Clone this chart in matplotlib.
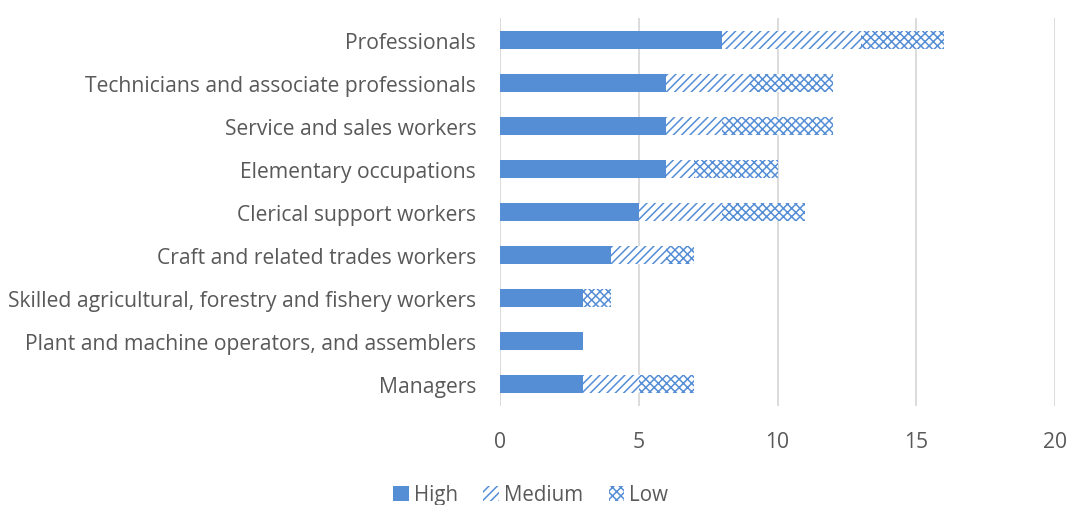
import matplotlib.pyplot as plt

# Data (bottom to top)
occupations = [
    'Managers',
    'Plant and machine operators, and assemblers',
    'Skilled agricultural, forestry and fishery workers',
    'Craft and related trades workers',
    'Clerical support workers',
    'Elementary occupations',
    'Service and sales workers',
    'Technicians and associate professionals',
    'Professionals',
]
high = [3, 3, 3, 4, 5, 6, 6, 6, 8]
medium = [2, 0, 0, 2, 3, 1, 2, 3, 5]
low = [2, 0, 1, 1, 3, 3, 4, 3, 3]

blue = '#558ED5'
text_col = '#595959'

plt.rcParams['font.family'] = ['Open Sans', 'DejaVu Sans']
plt.rcParams['hatch.color'] = blue
plt.rcParams['hatch.linewidth'] = 1.1

fig = plt.figure(figsize=(10.68, 5.06), dpi=100)
ax = fig.add_axes([0.468, 0.1966, 0.52, 0.7649])

y = range(len(occupations))
left_med = [h for h in high]
left_low = [h + m for h, m in zip(high, medium)]

ax.barh(y, high, height=0.42, color=blue, label='High')
ax.barh(y, medium, left=left_med, height=0.42, color='white',
        edgecolor=blue, linewidth=0, hatch='////', label='Medium')
ax.barh(y, low, left=left_low, height=0.42, color='white',
        edgecolor=blue, linewidth=0, hatch='xxxx', label='Low')

ax.set_xlim(0, 20)
ax.set_ylim(-0.5, len(occupations) - 0.5)
ax.set_xticks([0, 5, 10, 15, 20])
ax.set_yticks(list(y))
ax.set_yticklabels(occupations)
ax.tick_params(length=0, labelsize=15.2, colors=text_col)
ax.tick_params(axis='x', pad=18)
ax.tick_params(axis='y', pad=17)
ax.xaxis.grid(True, color='#D9D9D9', linewidth=1.3)
ax.set_axisbelow(True)
for s in ax.spines.values():
    s.set_visible(False)

fig.legend(loc='lower center', bbox_to_anchor=(0.497, -0.037), ncol=3,
           frameon=False, fontsize=14.8, labelcolor=text_col,
           handlelength=0.75, handleheight=0.75, handletextpad=0.25,
           columnspacing=1.25)

fig.savefig('out.png', dpi=100)
